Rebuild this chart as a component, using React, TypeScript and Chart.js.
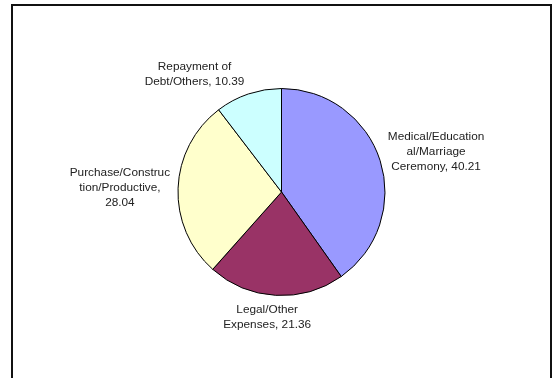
import React, { useEffect, useRef } from "react";
import { Chart, registerables } from "chart.js";

Chart.register(...registerables);

const categories = [
  "Medical/Educational/Marriage Ceremony",
  "Legal/Other Expenses",
  "Purchase/Construction/Productive",
  "Repayment of Debt/Others",
];
const values = [40.21, 21.36, 28.04, 10.39];
const labelLines = [
  ["Medical/Education", "al/Marriage", "Ceremony, 40.21"],
  ["Legal/Other", "Expenses, 21.36"],
  ["Purchase/Construc", "tion/Productive,", "28.04"],
  ["Repayment of", "Debt/Others, 10.39"],
];
const colors = ["#9999FF", "#993366", "#FFFFCC", "#CCFFFF"];

const clamp = (v: number) => Math.max(-1, Math.min(1, v));

const outsideLabels = {
  id: "outsideLabels",
  afterDatasetsDraw(chart: any) {
    const ctx = chart.ctx;
    const meta = chart.getDatasetMeta(0);
    ctx.save();
    ctx.font = "11.8px 'Liberation Sans', Arial, sans-serif";
    ctx.fillStyle = "#222";
    ctx.textAlign = "center";
    ctx.textBaseline = "middle";
    const lh = 15;
    meta.data.forEach((arc: any, i: number) => {
      const p = arc.getProps(["x", "y", "startAngle", "endAngle", "outerRadius"], true);
      const mid = (p.startAngle + p.endAngle) / 2;
      const c = Math.cos(mid);
      const s = Math.sin(mid);
      const r = p.outerRadius + 6;
      const ax = p.x + c * r;
      const ay = p.y + s * r;
      const lines = labelLines[i];
      const w = Math.max(...lines.map((l) => ctx.measureText(l).width)) + 4;
      const h = lines.length * lh;
      const cx = ax + (w / 2) * clamp(c * 3.2);
      const cy = ay + (h / 2) * clamp(s * 1.2);
      lines.forEach((l, j) => {
        ctx.fillText(l, cx, cy - h / 2 + lh / 2 + j * lh + 1);
      });
    });
    ctx.restore();
  },
};

export default function App() {
  const ref = useRef<HTMLCanvasElement | null>(null);
  useEffect(() => {
    if (!ref.current) return;
    const chart = new Chart(ref.current, {
      type: "pie",
      data: {
        labels: categories,
        datasets: [
          {
            data: values,
            backgroundColor: colors,
            borderColor: "#000",
            borderWidth: 1,
          },
        ],
      },
      options: {
        responsive: false,
        animation: false,
        layout: { padding: { top: 88, bottom: 82, left: 177.5, right: 174.5 } },
        plugins: {
          legend: { display: false },
          tooltip: { enabled: false },
        },
      },
      plugins: [outsideLabels],
    });
    return () => chart.destroy();
  }, []);
  return (
    <div style={{ position: "fixed", left: 0, top: 0, width: 560, height: 378, background: "#fff" }}>
      <canvas ref={ref} width={560} height={378} style={{ position: "absolute", left: 0, top: 0 }} />
      <div
        style={{
          position: "absolute",
          left: 11,
          top: 4,
          width: 537,
          height: 400,
          borderTop: "2px solid #111",
          borderLeft: "2px solid #111",
          borderRight: "2px solid #111",
          pointerEvents: "none",
        }}
      />
    </div>
  );
}
